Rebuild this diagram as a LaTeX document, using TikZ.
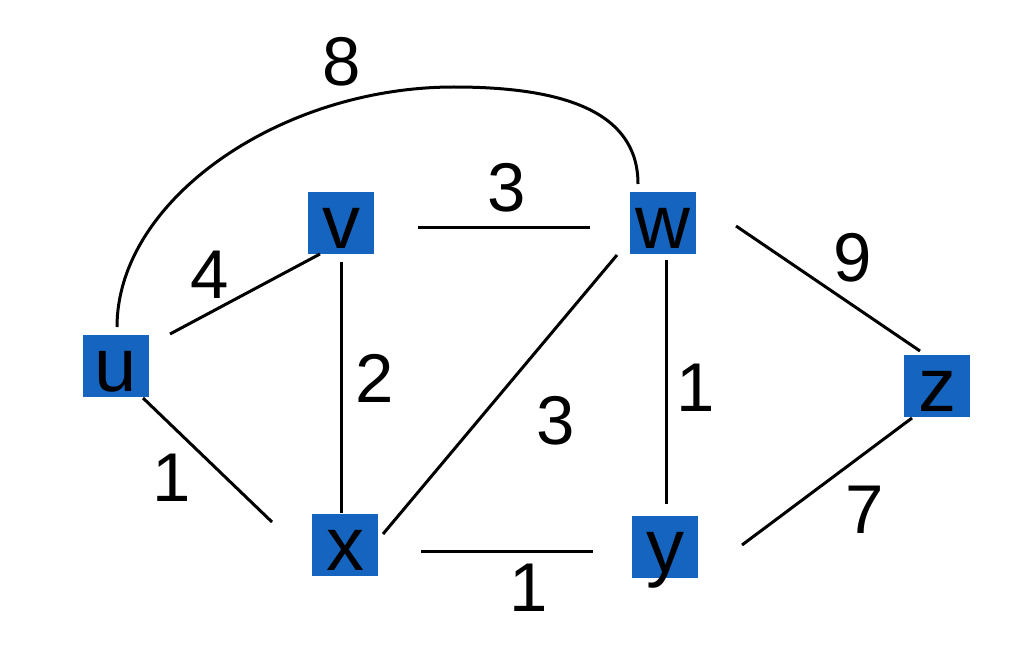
\documentclass[tikz,border=0pt]{standalone}
\usepackage{fontspec}
\setmainfont{Liberation Sans}
\definecolor{nodeblue}{RGB}{21,101,192}
\begin{document}
\begin{tikzpicture}[x=1pt,y=-1pt,
  vertex/.style={fill=nodeblue,draw=none,inner sep=0pt,minimum width=66pt,
    text height=56pt,text depth=6pt,font=\fontsize{76}{80}\selectfont},
  weight/.style={inner sep=0pt,font=\fontsize{69}{72}\selectfont},
  edge/.style={line width=3pt,black}]
\useasboundingbox (0,0) rectangle (1024,655);
% vertices
\node[vertex] (u) at (116,366) {u};
\node[vertex] (v) at (341,223) {v};
\node[vertex] (w) at (663,223) {w};
\node[vertex] (z) at (937,386) {z};
\node[vertex] (x) at (345,545) {x};
\node[vertex] (y) at (665,547) {y};
% edges
\draw[edge] ([shift={(54,-32)}]u.center) -- ([shift={(-21,31)}]v.center);
\draw[edge] ([shift={(0,39)}]v.center) -- ([shift={(-4,-32)}]x.center);
\draw[edge] ([shift={(27,32)}]u.center) -- ([shift={(-73,-23)}]x.center);
\draw[edge] ([shift={(77,4)}]v.center) -- ([shift={(-73,4)}]w.center);
\draw[edge] ([shift={(1,-39)}]u.center) .. controls (117,200) and (280,87) .. (454,87)
  .. controls (560,87) and (638,110) .. ([shift={(-25,-39)}]w.center);
\draw[edge] ([shift={(-46,32)}]w.center) -- ([shift={(38,-11)}]x.center);
\draw[edge] ([shift={(3,37)}]w.center) -- ([shift={(1,-43)}]y.center);
\draw[edge] ([shift={(73,3)}]w.center) -- ([shift={(-17,-35)}]z.center);
\draw[edge] ([shift={(-25,32)}]z.center) -- ([shift={(77,-2)}]y.center);
\draw[edge] ([shift={(76,6)}]x.center) -- ([shift={(-72,4)}]y.center);
% weights
\node[weight] (l8) at (342,62) {8};
\node[weight] (l3a) at (507,188) {3};
\node[weight] (l4) at (210,275) {4};
\node[weight] (l2) at (375,378) {2};
\node[weight] (l3b) at (556,421) {3};
\node[weight] (l1a) at (696,388) {1};
\node[weight] (l9) at (853,258) {9};
\node[weight] (l1b) at (172,478) {1};
\node[weight] (l7) at (865,510) {7};
\node[weight] (l1c) at (529,588) {1};
\end{tikzpicture}
\end{document}
